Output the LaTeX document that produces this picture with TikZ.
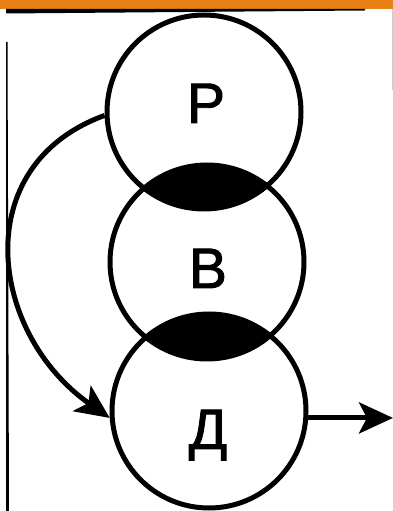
\documentclass[tikz,border=0pt]{standalone}
\usepackage{fontspec}
\setmainfont{Liberation Sans}
\newfontfamily\lblfont[FakeBold=1.6]{Liberation Sans}
\usetikzlibrary{arrows.meta}
\definecolor{barorange}{RGB}{232,130,22}
\begin{document}
\begin{tikzpicture}[x=1pt,y=1pt,
  ring/.style={circle, draw, line width=5pt, minimum size=194pt, inner sep=0pt},
  lbl/.style={font=\lblfont\fontsize{57}{57}\selectfont, anchor=base, inner sep=0pt},
  flow/.style={line width=5pt, -{Stealth[length=34pt,width=31pt,inset=8pt]}}]
\useasboundingbox (0,0) rectangle (393,511);
\fill[white] (0,0) rectangle (393,511);
% frame remnants
\fill[barorange] (0,502) rectangle (393,511);
\fill[black] (6,502) -- (365,502) -- (365,500.5) -- (6,497.5) -- cycle;
\fill[black] (6,469) -- (7.5,469) -- (9,0) -- (6,0) -- cycle;
\draw[gray!40, line width=1pt] (392.5,502) -- (392.5,421);
% centres
\coordinate (pc) at (204,399);
\coordinate (bc) at (207,249);
\coordinate (dc) at (209,100);
% overlap lenses
\begin{scope}
  \clip (pc) circle[radius=97];
  \fill (bc) circle[radius=97];
\end{scope}
\begin{scope}
  \clip (bc) circle[radius=97];
  \fill (dc) circle[radius=97];
\end{scope}
% circles
\node[ring] (P) at (pc) {};
\node[ring] (B) at (bc) {};
\node[ring] (D) at (dc) {};
% labels
\node[lbl] (lp) at (206,388) {Р};
\node[lbl] (lb) at (208,223) {В};
\node[lbl] (ld) at (208,62) {Д};
% connectors
\coordinate (exit) at (393,93);
\draw[flow] (P.182) to[out=200,in=145,looseness=1.24] (D.184);
\draw[flow] (D.-4) -- (D.-4 -| exit);
\end{tikzpicture}
\end{document}
